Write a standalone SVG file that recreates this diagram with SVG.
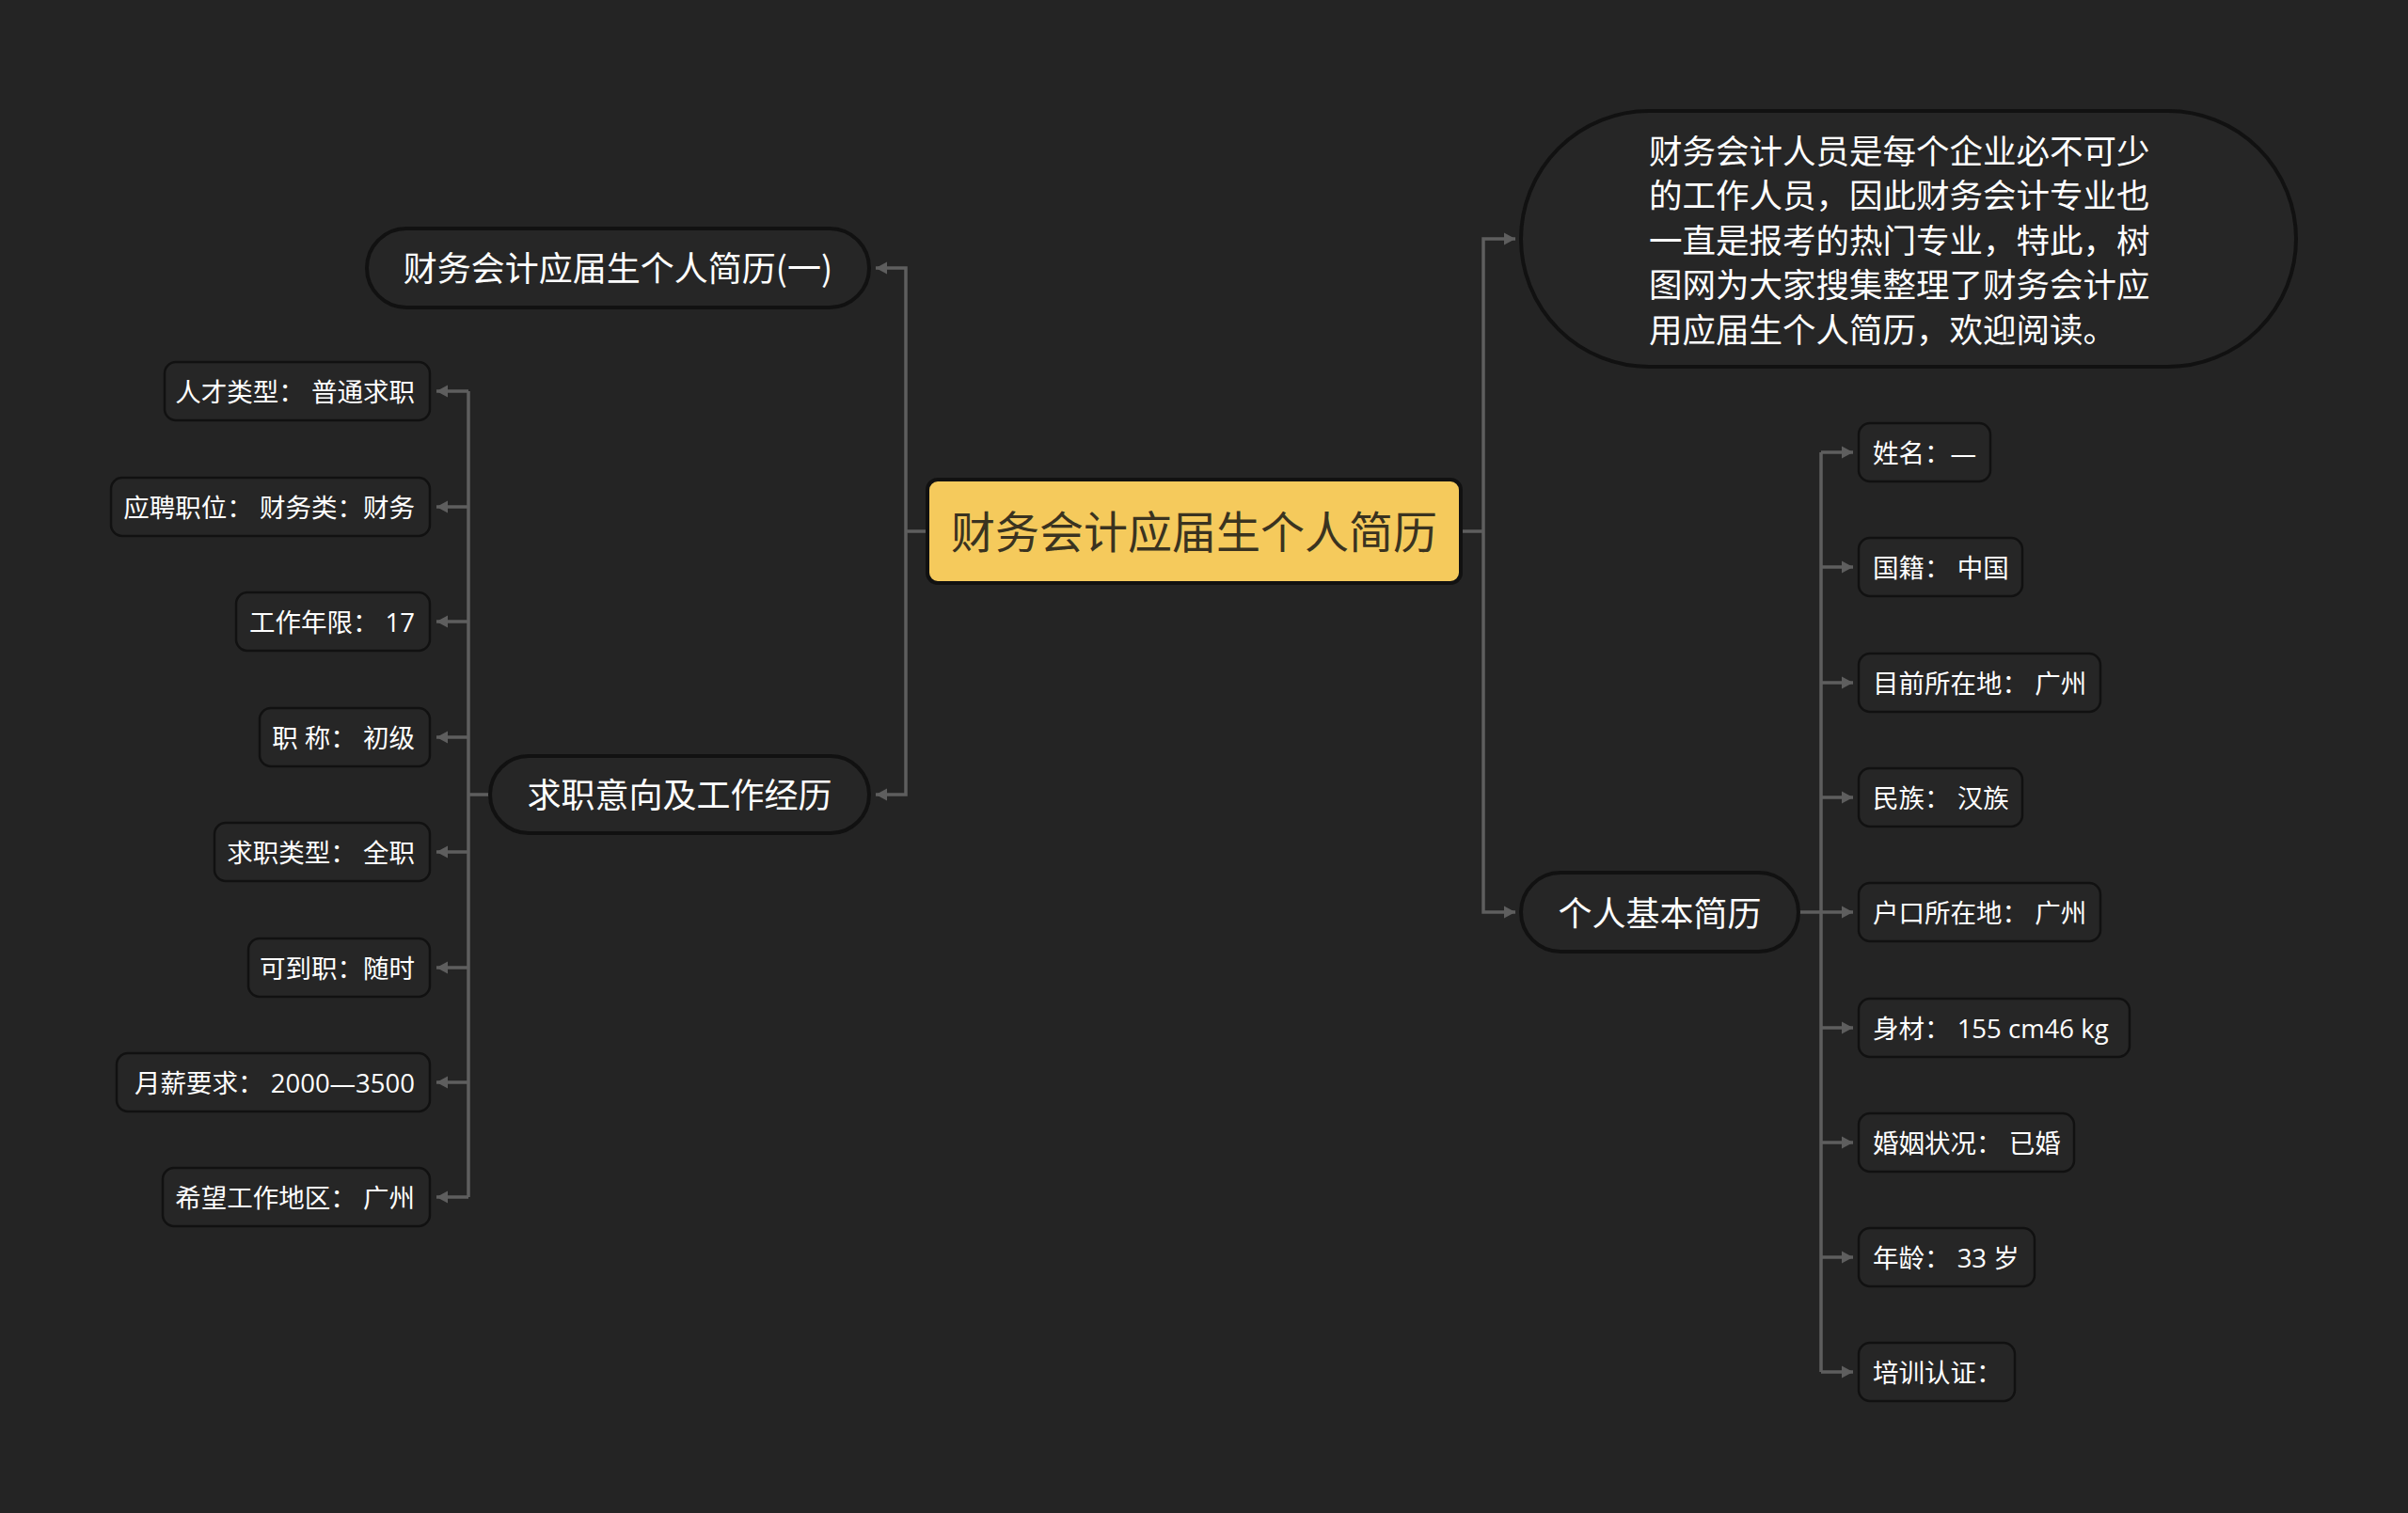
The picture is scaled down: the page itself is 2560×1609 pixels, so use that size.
<svg xmlns="http://www.w3.org/2000/svg" width="2560" height="1609" viewBox="0 0 2560 1609">
<defs>
<style>
.bg{fill:#242424}
.link{fill:none;stroke:#5e5e5e;stroke-width:3.5}
.main{fill:#262626;stroke:#111111;stroke-width:4}
.leaf{fill:#262626;stroke:#111111;stroke-width:2.5}
.t{font-family:"Noto Sans CJK SC","Noto Sans",sans-serif;fill:#ffffff;dominant-baseline:central}
.tm{font-size:36px;text-anchor:middle}
.tl{font-size:27.5px;font-family:"Open Sans","Noto Sans CJK SC",sans-serif}
.td{font-size:35.5px}
</style>
<marker id="ah" markerUnits="userSpaceOnUse" markerWidth="13" markerHeight="14" refX="12" refY="7" orient="auto">
<path d="M0,0.5 L12,7 L0,13.5 z" fill="#5e5e5e"/>
</marker>
</defs>
<rect class="bg" x="0" y="0" width="2560" height="1609"/>

<g id="connectors">
<path class="link" d="M986,565 H963"/>
<path class="link" d="M963,565 V285 H931" marker-end="url(#ah)"/>
<path class="link" d="M963,565 V845 H931" marker-end="url(#ah)"/>
<path class="link" d="M1553,565 H1577"/>
<path class="link" d="M1577,565 V254 H1611" marker-end="url(#ah)"/>
<path class="link" d="M1577,565 V970 H1611" marker-end="url(#ah)"/>
<path class="link" d="M521,845 H498"/>
<path class="link" d="M498,416 V1273"/>
<path class="link" d="M498,416 H464" marker-end="url(#ah)"/>
<path class="link" d="M498,539 H464" marker-end="url(#ah)"/>
<path class="link" d="M498,661 H464" marker-end="url(#ah)"/>
<path class="link" d="M498,784 H464" marker-end="url(#ah)"/>
<path class="link" d="M498,906 H464" marker-end="url(#ah)"/>
<path class="link" d="M498,1029 H464" marker-end="url(#ah)"/>
<path class="link" d="M498,1151 H464" marker-end="url(#ah)"/>
<path class="link" d="M498,1273 H464" marker-end="url(#ah)"/>
<path class="link" d="M1912,970 H1936"/>
<path class="link" d="M1936,481 V1459"/>
<path class="link" d="M1936,481 H1970" marker-end="url(#ah)"/>
<path class="link" d="M1936,603 H1970" marker-end="url(#ah)"/>
<path class="link" d="M1936,726 H1970" marker-end="url(#ah)"/>
<path class="link" d="M1936,848 H1970" marker-end="url(#ah)"/>
<path class="link" d="M1936,970 H1970" marker-end="url(#ah)"/>
<path class="link" d="M1936,1093 H1970" marker-end="url(#ah)"/>
<path class="link" d="M1936,1215 H1970" marker-end="url(#ah)"/>
<path class="link" d="M1936,1337 H1970" marker-end="url(#ah)"/>
<path class="link" d="M1936,1459 H1970" marker-end="url(#ah)"/>
</g>

<g id="root">
<rect x="986" y="510" width="567" height="110" rx="11" fill="#f5ca5c" stroke="#111111" stroke-width="4"/>
<text class="t" x="1269.5" y="562" font-size="47" text-anchor="middle" style="fill:#3a3320">财务会计应届生个人简历</text>
</g>

<g id="n-resume1">
<rect class="main" x="390" y="243" width="534" height="84" rx="42"/>
<text class="t tm" x="657" y="283">财务会计应届生个人简历(一)</text>
</g>

<g id="n-intent">
<rect class="main" x="521" y="804" width="403" height="82" rx="41"/>
<text class="t tm" x="722.5" y="843">求职意向及工作经历</text>
</g>

<g id="n-desc">
<rect class="main" x="1617" y="118" width="824" height="272" rx="136"/>
<text class="t td" x="1753" y="158">财务会计人员是每个企业必不可少</text>
<text class="t td" x="1753" y="205.5">的工作人员，因此财务会计专业也</text>
<text class="t td" x="1753" y="253">一直是报考的热门专业，特此，树</text>
<text class="t td" x="1753" y="300.5">图网为大家搜集整理了财务会计应</text>
<text class="t td" x="1753" y="348">用应届生个人简历，欢迎阅读。</text>
</g>

<g id="n-basic">
<rect class="main" x="1617" y="928" width="295" height="84" rx="42"/>
<text class="t tm" x="1764.5" y="969">个人基本简历</text>
</g>

<g id="l1"><rect class="leaf" x="175" y="385" width="282" height="62" rx="12"/><text class="t tl" x="441" y="416" text-anchor="end">人才类型： 普通求职</text></g>
<g id="l2"><rect class="leaf" x="118" y="508" width="339" height="62" rx="12"/><text class="t tl" x="441" y="539" text-anchor="end">应聘职位： 财务类：财务</text></g>
<g id="l3"><rect class="leaf" x="251" y="630" width="206" height="62" rx="12"/><text class="t tl" x="441" y="661" text-anchor="end">工作年限： 17</text></g>
<g id="l4"><rect class="leaf" x="276" y="753" width="181" height="62" rx="12"/><text class="t tl" x="441" y="784" text-anchor="end">职 称： 初级</text></g>
<g id="l5"><rect class="leaf" x="228" y="875" width="229" height="62" rx="12"/><text class="t tl" x="441" y="906" text-anchor="end">求职类型： 全职</text></g>
<g id="l6"><rect class="leaf" x="264" y="998" width="193" height="62" rx="12"/><text class="t tl" x="441" y="1029" text-anchor="end">可到职：随时</text></g>
<g id="l7"><rect class="leaf" x="124" y="1120" width="333" height="62" rx="12"/><text class="t tl" x="441" y="1151" text-anchor="end">月薪要求： 2000—3500</text></g>
<g id="l8"><rect class="leaf" x="173" y="1242" width="284" height="62" rx="12"/><text class="t tl" x="441" y="1273" text-anchor="end">希望工作地区： 广州</text></g>

<g id="r1"><rect class="leaf" x="1976" y="450" width="140" height="62" rx="12"/><text class="t tl" x="1991" y="481">姓名：—</text></g>
<g id="r2"><rect class="leaf" x="1976" y="572" width="174" height="62" rx="12"/><text class="t tl" x="1991" y="603">国籍： 中国</text></g>
<g id="r3"><rect class="leaf" x="1976" y="695" width="257" height="62" rx="12"/><text class="t tl" x="1991" y="726">目前所在地： 广州</text></g>
<g id="r4"><rect class="leaf" x="1976" y="817" width="174" height="62" rx="12"/><text class="t tl" x="1991" y="848">民族： 汉族</text></g>
<g id="r5"><rect class="leaf" x="1976" y="939" width="257" height="62" rx="12"/><text class="t tl" x="1991" y="970">户口所在地： 广州</text></g>
<g id="r6"><rect class="leaf" x="1976" y="1062" width="288" height="62" rx="12"/><text class="t tl" x="1991" y="1093">身材： 155 cm46 kg</text></g>
<g id="r7"><rect class="leaf" x="1976" y="1184" width="229" height="62" rx="12"/><text class="t tl" x="1991" y="1215">婚姻状况： 已婚</text></g>
<g id="r8"><rect class="leaf" x="1976" y="1306" width="187" height="62" rx="12"/><text class="t tl" x="1991" y="1337">年龄： 33 岁</text></g>
<g id="r9"><rect class="leaf" x="1976" y="1428" width="166" height="62" rx="12"/><text class="t tl" x="1991" y="1459">培训认证：</text></g>
</svg>
